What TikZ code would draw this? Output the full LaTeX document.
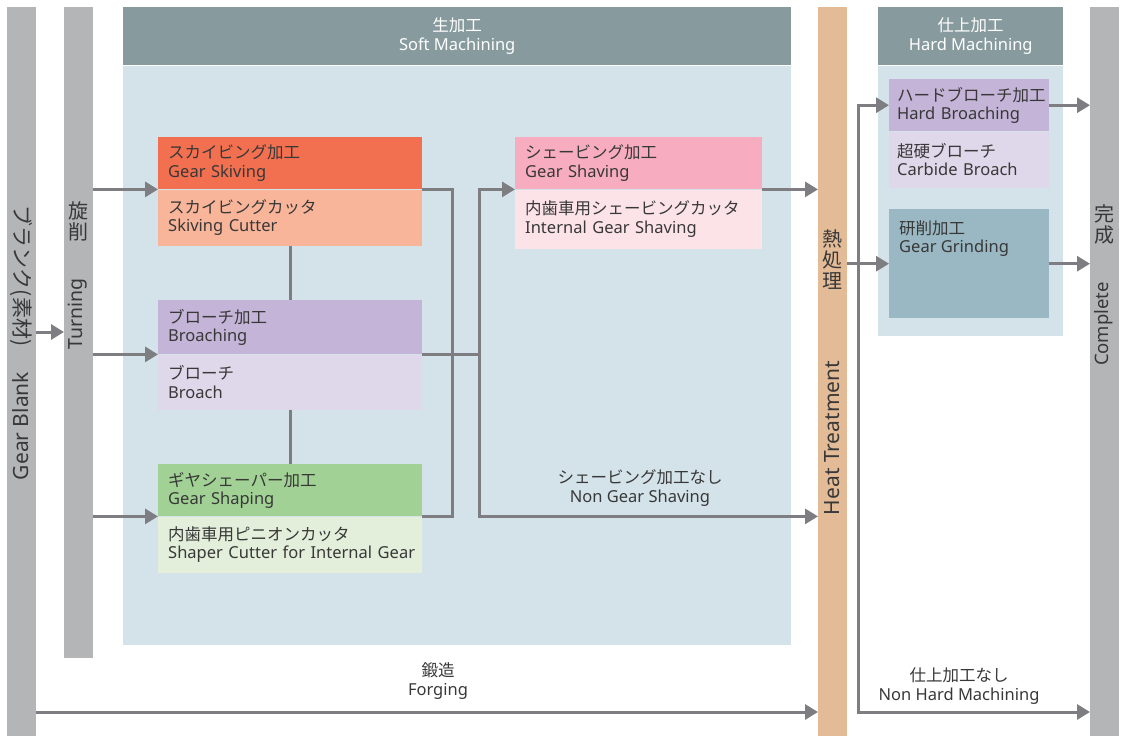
\documentclass[tikz,border=0pt]{standalone}
\usepackage{fontspec}
\setmainfont{Noto Sans}
\newfontfamily\jpfont{Noto Sans CJK JP}
\usepackage{tikz}
\usetikzlibrary{arrows.meta,positioning,calc}
\definecolor{bargray}{HTML}{B4B5B7}
\definecolor{headgray}{HTML}{879A9E}
\definecolor{panelblue}{HTML}{D4E3EA}
\definecolor{heatorange}{HTML}{E4BB97}
\definecolor{skivdark}{HTML}{F2704F}
\definecolor{skivlight}{HTML}{F9B59A}
\definecolor{broachdark}{HTML}{C4B4D7}
\definecolor{broachlight}{HTML}{DFD7EA}
\definecolor{shapedark}{HTML}{A1D194}
\definecolor{shapelight}{HTML}{E3EFDB}
\definecolor{shavedark}{HTML}{F7ADBF}
\definecolor{shavelight}{HTML}{FCE3E8}
\definecolor{grindblue}{HTML}{9AB8C3}
\definecolor{linegray}{HTML}{7D7D82}
\definecolor{inkgray}{HTML}{383838}
\newcommand{\jp}[1]{{\jpfont #1}}
\newcommand{\boxfont}{\fontsize{16.5}{18.5}\selectfont}
\tikzset{
  barbox/.style={fill=bargray,anchor=north west,minimum width=29pt,inner sep=0pt},
  headbox/.style={fill=headgray,anchor=north west,inner sep=0pt,text=white,
    align=center,font=\boxfont},
  panelbox/.style={fill=panelblue,anchor=north west,inner sep=0pt},
  stagebox/.style={anchor=north west,inner xsep=10pt,inner ysep=0pt,align=left,
    text=inkgray,font=\boxfont},
  flowline/.style={draw=linegray,line width=3pt},
  flowarrow/.style={flowline,-{Triangle[length=13pt,width=15pt]}},
  flowboth/.style={flowline,{Triangle[length=13pt,width=15pt]}-{Triangle[length=13pt,width=15pt]}},
  flowlabel/.style={align=center,text=inkgray,font=\boxfont,inner sep=0pt},
  vjp/.style={align=center,text=inkgray,font=\jpfont\fontsize{20}{21}\selectfont,inner sep=0pt},
  vlabel/.style={text=inkgray,inner sep=0pt}
}
\begin{document}
\begin{tikzpicture}[x=1pt,y=-1pt]
  \useasboundingbox (0,0) rectangle (1122,736);
  % 縦の帯
  \node[barbox,minimum height=729pt] (blankbar) at (7,7) {};
  \node[barbox,minimum height=651pt] (turnbar) at (64,7) {};
  \node[barbox,fill=heatorange,minimum height=729pt] (heatbar) at (818,7) {};
  \node[barbox,minimum height=729pt] (donebar) at (1090,7) {};
  \node[vlabel,rotate=-90,font=\fontsize{21}{22}\selectfont] (blankjp) at (21,276) {\jp{ブランク(素材)}};
  \node[vlabel,rotate=90,font=\fontsize{21}{22}\selectfont] (blanken) at (21,426) {Gear Blank};
  \node[vjp] (turnjp) at (78,221) {旋\\削};
  \node[vlabel,rotate=90,font=\fontsize{19.5}{21}\selectfont] (turnen) at (78,314) {Turning};
  \node[vjp] (heatjp) at (832,260) {熱\\処\\理};
  \node[vlabel,rotate=90,font=\fontsize{21}{22}\selectfont] (heaten) at (832,438) {Heat Treatment};
  \node[vjp] (donejp) at (1104,224) {完\\成};
  \node[vlabel,rotate=90,font=\fontsize{18.5}{20}\selectfont] (doneen) at (1104,324) {Complete};
  % 生加工
  \node[headbox,minimum width=668pt,minimum height=58pt] (softhead) at (123,7) {\jp{生加工}\\Soft Machining};
  \node[panelbox,minimum width=668pt,minimum height=579pt] (softpanel) at (softhead.south west) {};
  \node[stagebox,fill=skivdark,text width=244pt,minimum height=52pt] (skiv) at (158,137) {\jp{スカイビング加工}\\Gear Skiving};
  \node[stagebox,fill=skivlight,text width=244pt,minimum height=56pt] (skivtool) at (skiv.south west) {\jp{スカイビングカッタ}\\Skiving Cutter};
  \node[stagebox,fill=broachdark,text width=244pt,minimum height=54pt] (broach) at (158,300) {\jp{ブローチ加工}\\Broaching};
  \node[stagebox,fill=broachlight,text width=244pt,minimum height=55pt] (broachtool) at (broach.south west) {\jp{ブローチ}\\Broach};
  \node[stagebox,fill=shapedark,text width=244pt,minimum height=52pt] (shape) at (158,464) {\jp{ギヤシェーパー加工}\\Gear Shaping};
  \node[stagebox,fill=shapelight,text width=244pt,minimum height=56pt] (shapetool) at (shape.south west) {\jp{内歯車用ピニオンカッタ}\\\mbox{Shaper Cutter for Internal Gear}};
  \node[stagebox,fill=shavedark,text width=227pt,minimum height=52pt] (shave) at (515,137) {\jp{シェービング加工}\\Gear Shaving};
  \node[stagebox,fill=shavelight,text width=227pt,minimum height=59pt] (shavetool) at (shave.south west) {\jp{内歯車用シェービングカッタ}\\Internal Gear Shaving};
  % 仕上加工
  \node[headbox,minimum width=185pt,minimum height=58pt] (hardhead) at (878,7) {\jp{仕上加工}\\Hard Machining};
  \node[panelbox,minimum width=185pt,minimum height=270pt] (hardpanel) at (hardhead.south west) {};
  \node[stagebox,inner xsep=8pt,fill=broachdark,text width=144pt,minimum height=52pt] (hbroach) at (889,79) {\jp{ハードブローチ加工}\\Hard Broaching};
  \node[stagebox,inner xsep=8pt,fill=broachlight,text width=144pt,minimum height=56pt] (hbroachtool) at (hbroach.south west) {\jp{超硬ブローチ}\\Carbide Broach};
  \node[stagebox,fill=grindblue,minimum width=160pt,minimum height=109pt] (grind) at (889,209) {};
  \node[stagebox] (grindtext) at ([yshift=-11pt]grind.north west) {\jp{研削加工}\\Gear Grinding};
  % 流れ
  \coordinate (blankout) at (0,332);
  \coordinate (forge) at (0,712);
  \coordinate (skivjoin) at (452,0);
  \coordinate (shavejoin) at (479,0);
  \coordinate (hardjoin) at (858,0);
  \draw[flowarrow] (blankbar.east |- blankout) -- (turnbar.west |- blankout);
  \draw[flowarrow] (turnbar.east |- skiv.south west) -- (skiv.south west);
  \draw[flowarrow] (turnbar.east |- broach.south west) -- (broach.south west);
  \draw[flowarrow] (turnbar.east |- shape.south west) -- (shape.south west);
  \draw[flowline] (skivtool.south) -- (broach.north);
  \draw[flowline] (broachtool.south) -- (shape.north);
  \draw[flowline] (skiv.south east) -| (skivjoin |- shape.south east) -- (shape.south east);
  \draw[flowline] (broach.south east) -- (shavejoin |- broach.south east);
  \draw[flowboth] (shave.south west) -| (shavejoin |- shape.south east) -- (heatbar.west |- shape.south east);
  \draw[flowarrow] (shave.south east) -- (heatbar.west |- shave.south east);
  \draw[flowarrow] (blankbar.east |- forge) -- (heatbar.west |- forge);
  \draw[flowarrow] (heatbar.east |- grind.west) -- (grind.west);
  \draw[flowboth] (hbroach.west) -- (hardjoin |- hbroach.west) -- (hardjoin |- forge) -- (donebar.west |- forge);
  \draw[flowarrow] (hbroach.east) -- (donebar.west |- hbroach.east);
  \draw[flowarrow] (grind.east) -- (donebar.west |- grind.east);
  \node[flowlabel] (noshave) at (640,488) {\jp{シェービング加工なし}\\Non Gear Shaving};
  \node[flowlabel] (forging) at (438,681) {\jp{鍛造}\\Forging};
  \node[flowlabel] (nohard) at (959,686) {\jp{仕上加工なし}\\Non Hard Machining};
\end{tikzpicture}
\end{document}
